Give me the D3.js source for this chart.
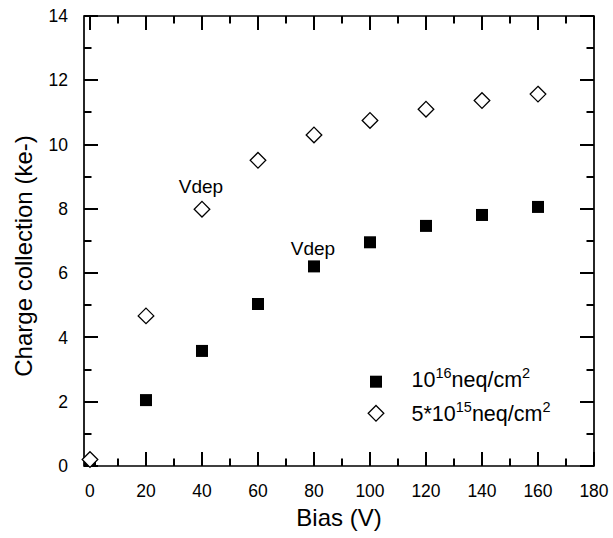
<!DOCTYPE html>
<html>
<head>
<meta charset="utf-8">
<script src="https://cdn.jsdelivr.net/npm/d3@7"></script>
<style>
  html, body { margin: 0; padding: 0; background: #fff; }
  svg { display: block; font-family: "Liberation Sans", Arial, sans-serif; }
</style>
</head>
<body>
<svg id="chart" width="613" height="538"></svg>
<script>
// ---- data ----
const bias = [0, 20, 40, 60, 80, 100, 120, 140, 160];
const high = [0.0, 2.05, 3.58, 5.04, 6.21, 6.96, 7.47, 7.81, 8.06];      // 10^16 neq/cm^2
const low  = [0.2, 4.67, 7.99, 9.51, 10.30, 10.75, 11.10, 11.37, 11.57]; // 5*10^15 neq/cm^2
const xTicks = [0, 20, 40, 60, 80, 100, 120, 140, 160, 180];
const xMinor = [10, 30, 50, 70, 90, 110, 130, 150, 170];
const yTicks = [0, 2, 4, 6, 8, 10, 12, 14];
const yMinor = [1, 3, 5, 7, 9, 11, 13];
const annotations = [
  { x: 40, y: 7.99, text: "Vdep" },
  { x: 80, y: 6.21, text: "Vdep" }
];

const svg = d3.select("#chart");
const L = 84, R = 594, T = 16, B = 466;
const x = d3.scaleLinear().domain([-2.14, 180]).range([L, R]);
const y = d3.scaleLinear().domain([0, 14]).range([B, T]);

const sq = 12, dh = 7.8;
const diamond = (cx, cy, h) => `M${cx},${cy - h}L${cx + h},${cy}L${cx},${cy + h}L${cx - h},${cy}Z`;

// frame
svg.append("path")
  .attr("d", `M${L},${T}H${R}V${B}H${L}Z`)
  .attr("fill", "none").attr("stroke", "#000").attr("stroke-width", 1.7);

const majorLen = 14, minorLen = 7.5;

// tick marks, inward on all four sides, each drawn as its own small polygon
const tickShapes = [];
xTicks.forEach(v => tickShapes.push({ o: "x", v, len: majorLen }));
xMinor.forEach(v => tickShapes.push({ o: "x", v, len: minorLen }));
yTicks.forEach(v => tickShapes.push({ o: "y", v, len: majorLen }));
yMinor.forEach(v => tickShapes.push({ o: "y", v, len: minorLen }));
const hw = 1;
function tickD(d) {
  if (d.o === "x") {
    const c = Math.round(x(d.v));
    return `M${c - hw},${B}L${c + hw},${B}L${c + hw},${B - d.len}L${c - hw},${B - d.len}Z` +
           `M${c - hw},${T}L${c + hw},${T}L${c + hw},${T + d.len}L${c - hw},${T + d.len}Z`;
  }
  const c = Math.round(y(d.v));
  return `M${L},${c - hw}L${L + d.len},${c - hw}L${L + d.len},${c + hw}L${L},${c + hw}Z` +
         `M${R},${c - hw}L${R - d.len},${c - hw}L${R - d.len},${c + hw}L${R},${c + hw}Z`;
}
svg.append("g").selectAll("path").data(tickShapes).join("path")
  .attr("d", tickD).attr("fill", "#000").attr("stroke", "none");

// markers on top (squares cut at the x axis)
svg.append("g").selectAll("rect").data(bias).join("rect")
  .attr("x", d => x(d) - sq / 2)
  .attr("y", (d, i) => y(high[i]) - sq / 2)
  .attr("width", sq)
  .attr("height", (d, i) => Math.max(0, Math.min(sq, B - (y(high[i]) - sq / 2))))
  .attr("fill", "#000");

svg.append("g").selectAll("path").data(bias).join("path")
  .attr("d", (d, i) => diamond(x(d), y(low[i]), dh))
  .attr("fill", "#fff").attr("stroke", "#000").attr("stroke-width", 1.3);

// tick labels
svg.append("g").selectAll("text").data(xTicks).join("text")
  .attr("x", d => x(d)).attr("y", 497).attr("text-anchor", "middle")
  .attr("font-size", 17.5).attr("fill", "#000").text(d => d);
svg.append("g").selectAll("text").data(yTicks).join("text")
  .attr("x", 68).attr("y", d => y(d)).attr("dy", "0.35em").attr("text-anchor", "end")
  .attr("font-size", 17.5).attr("fill", "#000").text(d => d);

// annotations
svg.selectAll("text.ann").data(annotations).join("text").attr("class", "ann")
  .attr("x", d => x(d.x) - 1).attr("y", (d, i) => y(d.y) - (i === 0 ? 16.5 : 11))
  .attr("text-anchor", "middle").attr("font-size", 19).attr("fill", "#000").text(d => d.text);

// axis titles
svg.append("text").attr("x", 339).attr("y", 526).attr("text-anchor", "middle")
  .attr("font-size", 24).attr("fill", "#000").text("Bias (V)");
svg.append("text").attr("transform", `translate(32,256) rotate(-90)`)
  .attr("text-anchor", "middle").attr("font-size", 24).attr("fill", "#000").text("Charge collection (ke-)");

// legend
const lg = svg.append("g");
lg.append("rect").attr("x", 376 - sq / 2).attr("y", 381.7 - sq / 2).attr("width", sq).attr("height", sq).attr("fill", "#000");
lg.append("path").attr("d", diamond(376, 413.3, dh)).attr("fill", "#fff").attr("stroke", "#000").attr("stroke-width", 1.3);

const t1 = lg.append("text").attr("x", 411.5).attr("y", 387).attr("font-size", 21.5).attr("fill", "#000");
t1.append("tspan").text("10");
t1.append("tspan").attr("font-size", 14.5).attr("dy", -9).text("16");
t1.append("tspan").attr("dy", 9).text("neq/cm");
t1.append("tspan").attr("font-size", 14.5).attr("dy", -9).text("2");

const t2 = lg.append("text").attr("x", 411.5).attr("y", 421).attr("font-size", 21.5).attr("fill", "#000");
t2.append("tspan").text("5*10");
t2.append("tspan").attr("font-size", 14.5).attr("dy", -9).text("15");
t2.append("tspan").attr("dy", 9).text("neq/cm");
t2.append("tspan").attr("font-size", 14.5).attr("dy", -9).text("2");
</script>
</body>
</html>
